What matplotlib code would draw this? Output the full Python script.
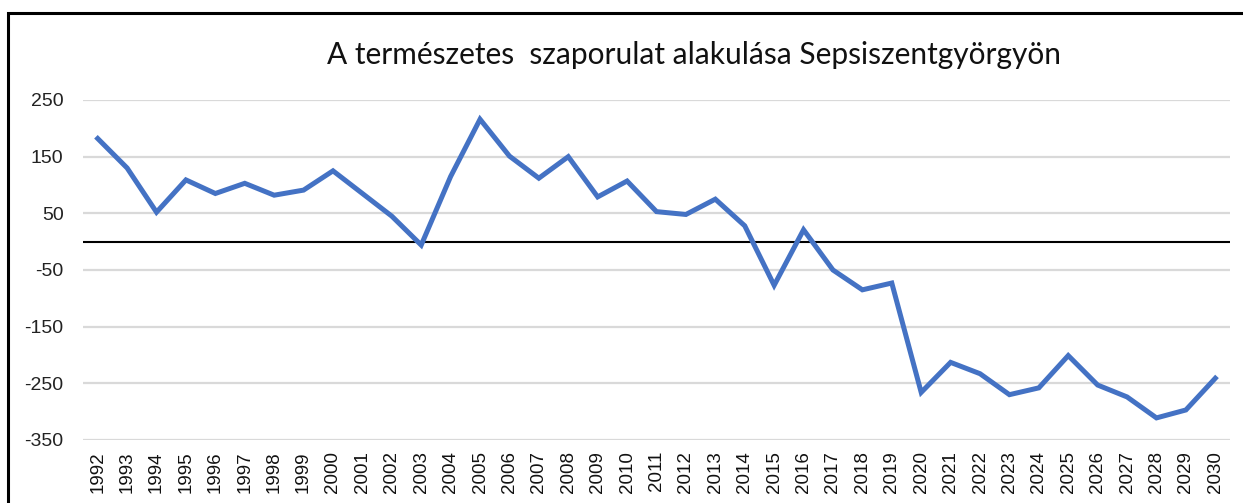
import matplotlib
matplotlib.use("Agg")
import matplotlib.pyplot as plt
from matplotlib.patches import Rectangle

years = [str(y) for y in range(1992, 2031)]
values = [182, 130, 52, 109, 85, 103, 82, 91, 125, 85, 45, -6, 115, 216, 151, 112,
          150, 79, 107, 53, 48, 75, 28, -77, 21, -50, -85, -73, -266, -213, -233,
          -270, -258, -201, -253, -274, -311, -297, -241]
yticks = [250, 150, 50, -50, -150, -250, -350]
title = "A természetes  szaporulat alakulása Sepsiszentgyörgyön"

W, H = 1243, 503
fig = plt.figure(figsize=(W / 100, H / 100), dpi=100)
fig.patch.set_facecolor("white")

# outer frame
fig.patches.append(Rectangle((8 / W, -0.05), 1.2, (H - 13) / H + 0.05,
                             transform=fig.transFigure, fill=False,
                             edgecolor="black", linewidth=2.2))

left, right = 83 / W, 1230 / W
bottom, top = 1 - 440 / H, 1 - 100 / H
ax = fig.add_axes([left, bottom, right - left, top - bottom])

x = list(range(len(years)))
for yv in yticks:
    ax.axhline(yv, color="#d9d9d9", linewidth=1.6, zorder=1)
ax.axhline(0, color="black", linewidth=1.5, zorder=2)
ax.plot(x, values, color="#4472C4", linewidth=3.6, solid_joinstyle="miter", zorder=3)

ax.set_xlim(-0.5, len(years) - 0.5)
ax.set_ylim(-350, 250)
ax.set_yticks(yticks)
ax.set_yticklabels([str(v) for v in yticks], fontsize=14, family="Liberation Sans", color="#222222")
ax.set_xticks(x)
ax.set_xticklabels(years, rotation=90, fontsize=13.5, family="Liberation Sans", color="#111111")
ax.tick_params(axis="y", length=0, pad=14)
ax.tick_params(axis="x", length=0, pad=8)
for s in ax.spines.values():
    s.set_visible(False)

fig.text(694 / W, 1 - 55 / H, title, ha="center", va="center", fontsize=21.5,
         family="Lato", color="#111111")

fig.savefig("out.png", dpi=100)
